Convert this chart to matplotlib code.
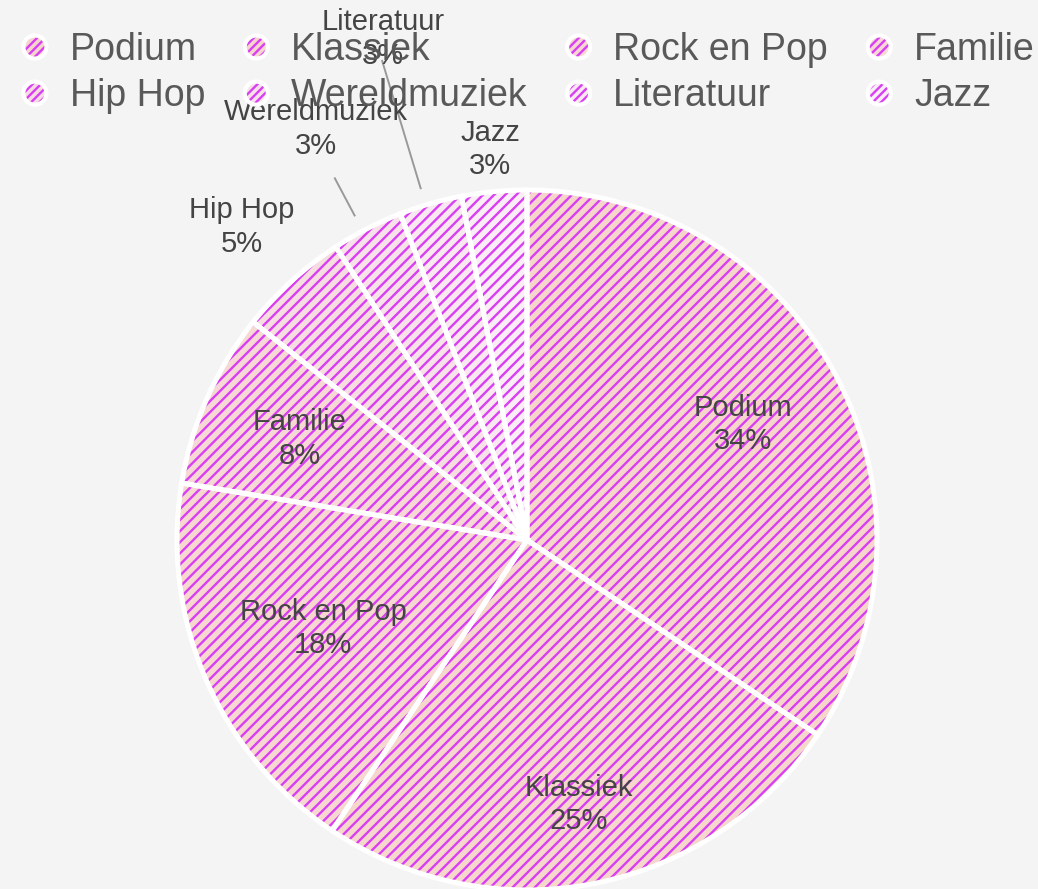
import numpy as np
import matplotlib
matplotlib.use("Agg")
import matplotlib.pyplot as plt
from matplotlib.patches import Patch, Circle
from matplotlib.legend_handler import HandlerBase

categories = ["Podium", "Klassiek", "Rock en Pop", "Familie",
              "Hip Hop", "Wereldmuziek", "Literatuur", "Jazz"]
shares = [34.4, 25.0, 18.2, 8.1, 5.1, 3.3, 2.9, 3.0]

base_colors = ["#f6d6cb", "#f6d7cc", "#f6d8d0", "#f6d9d4",
               "#f6dde0", "#f7e2ea", "#f9e8f0", "#fbedf5"]
stripe = "#d93ff2"
label_dist = [0.70, 0.77, 0.635, 0.71, 1.21, 1.32, 1.49, 1.12]

plt.rcParams["font.family"] = ["Liberation Sans", "DejaVu Sans"]
plt.rcParams["hatch.linewidth"] = 1.7

fig = plt.figure(figsize=(10.38, 8.89), dpi=100)
fig.patch.set_facecolor("#f4f4f4")
ax = fig.add_axes([0, 0, 1, 1])
ax.set_facecolor("#f4f4f4")

# hatched fill (hatch takes the edge colour), then white separators on top
wedges, _ = ax.pie(shares, colors=base_colors, startangle=90, counterclock=False,
                   radius=1, wedgeprops=dict(edgecolor=stripe, linewidth=0, hatch="///"))
ax.pie(shares, startangle=90, counterclock=False, radius=1,
       wedgeprops=dict(facecolor="none", edgecolor="white", linewidth=3.6))

total = sum(shares)
for w, name, val, d in zip(wedges, categories, shares, label_dist):
    mid = np.deg2rad((w.theta1 + w.theta2) / 2)
    x, y = d * np.cos(mid), d * np.sin(mid)
    ax.text(x, y, f"{name}\n{val / total * 100:.0f}%", ha="center", va="center",
            fontsize=21, color="#444444", linespacing=1.25)

# leader lines for the two narrow slices
for i, (r0, r1) in {5: (1.05, 1.17), 6: (1.05, 1.43)}.items():
    w = wedges[i]
    mid = np.deg2rad((w.theta1 + w.theta2) / 2 + 0.8)
    ax.plot([r0 * np.cos(mid), r1 * np.cos(mid)], [r0 * np.sin(mid), r1 * np.sin(mid)],
            color="#999999", lw=1.4)

ax.set_xlim(-527 / 350, (1038 - 527) / 350)
ax.set_ylim(-(889 - 540) / 350, 540 / 350)
ax.set_aspect("equal")
ax.axis("off")


class HandlerDot(HandlerBase):
    def create_artists(self, legend, orig_handle, xdescent, ydescent,
                       width, height, fontsize, trans):
        cx, cy = width / 2 - xdescent, height / 2 - ydescent
        r = min(width, height) * 0.42
        c1 = Circle((cx, cy), r, facecolor=orig_handle.get_facecolor(),
                    edgecolor=stripe, linewidth=0, hatch="////", transform=trans)
        c2 = Circle((cx, cy), r, fill=False, edgecolor="white", linewidth=3,
                    transform=trans)
        return [c1, c2]


handles = [Patch(facecolor=c, label=n) for c, n in zip(base_colors, categories)]
# legend fills column by column: reorder so it reads row by row
order = [0, 4, 1, 5, 2, 6, 3, 7]
leg = fig.legend([handles[i] for i in order], [categories[i] for i in order],
                 ncol=4, loc="upper left", bbox_to_anchor=(0.002, 0.985),
                 frameon=False, fontsize=27, handlelength=0.75, handleheight=0.75,
                 handletextpad=0.55, columnspacing=0.99, labelspacing=0.27,
                 borderpad=0, handler_map={Patch: HandlerDot()})
for t in leg.get_texts():
    t.set_color("#595959")

fig.savefig("out.png", dpi=100, facecolor=fig.get_facecolor())
